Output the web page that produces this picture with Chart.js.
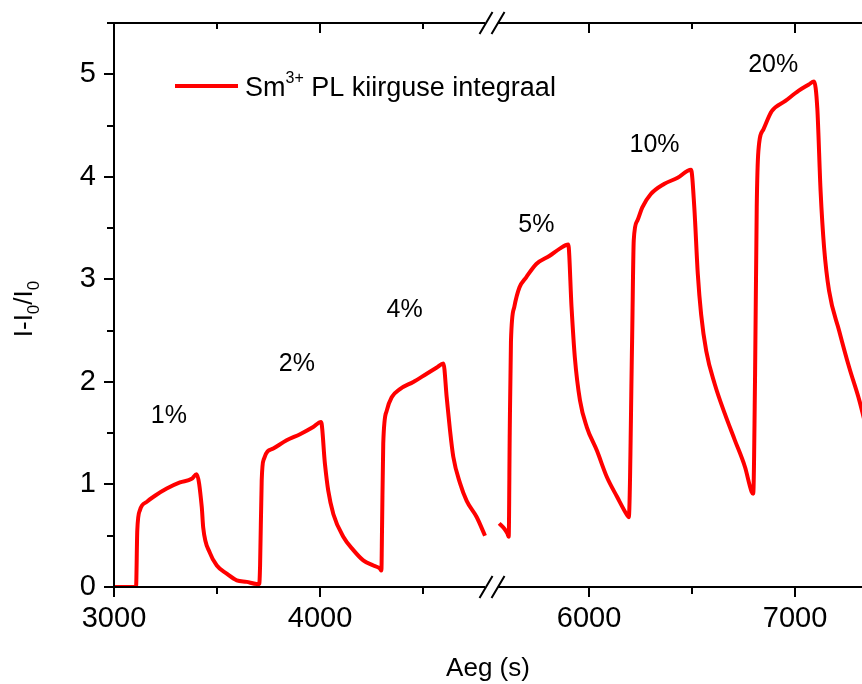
<!DOCTYPE html>
<html>
<head>
<meta charset="utf-8">
<script src="https://cdn.jsdelivr.net/npm/chart.js@4.4.1/dist/chart.umd.min.js"></script>
<style>
  html, body { margin: 0; padding: 0; background: #fff; }
</style>
</head>
<body>
<canvas id="chart" width="862" height="684"></canvas>
<script>
'use strict';

// Measured time (s) and signal before the axis break
const timeLeft = [3000, 3107, 3113, 3126, 3159, 3199, 3256, 3320, 3377, 3401,
  3426, 3433, 3466, 3499, 3547, 3596, 3644, 3693, 3705,
  3709, 3717, 3728, 3773, 3838, 3903, 3967, 4005,
  4024, 4040, 4065, 4113, 4162, 4210, 4259, 4291, 4298,
  4301, 4307, 4324, 4348, 4388, 4453, 4518, 4567, 4599,
  4615, 4631, 4647, 4680, 4712, 4761, 4801];
const signalLeft = [0, 0, 0.55, 0.75, 0.83, 0.89, 0.96, 1.02, 1.055, 1.10,
  0.78, 0.58, 0.33, 0.21, 0.13, 0.065, 0.05, 0.03, 0.03,
  0.2, 1.04, 1.25, 1.35, 1.43, 1.49, 1.56, 1.61,
  1.20, 0.94, 0.71, 0.49, 0.36, 0.26, 0.21, 0.18, 0.16,
  0.55, 1.40, 1.72, 1.85, 1.93, 2.0, 2.08, 2.14, 2.18,
  1.85, 1.53, 1.27, 1.01, 0.84, 0.68, 0.50];

// Measured time (s) and signal after the axis break
const timeRight = [5564, 5588, 5604, 5610, 5615, 5621, 5637, 5662, 5695, 5744, 5809, 5858, 5899,
  5915, 5931, 5956, 5989, 6038, 6087, 6136, 6185, 6193,
  6209, 6217, 6234, 6258, 6299, 6364, 6430, 6495,
  6511, 6528, 6544, 6569, 6610, 6659, 6708, 6757, 6789, 6797,
  6806, 6814, 6822, 6846, 6887, 6953, 7018, 7067, 7092,
  7108, 7124, 7141, 7165, 7214, 7263, 7312, 7358];
const signalRight = [0.62, 0.57, 0.52, 0.49, 1.5, 2.40, 2.73, 2.92, 3.02, 3.15, 3.23, 3.30, 3.34,
  2.73, 2.24, 1.82, 1.56, 1.33, 1.07, 0.88, 0.70, 0.68,
  2.40, 3.38, 3.57, 3.70, 3.83, 3.93, 3.99, 4.07,
  3.70, 3.05, 2.66, 2.30, 1.98, 1.69, 1.43, 1.17, 0.93, 0.91,
  2.08, 3.70, 4.25, 4.46, 4.64, 4.74, 4.84, 4.90, 4.93,
  4.67, 3.86, 3.31, 2.89, 2.50, 2.14, 1.82, 1.45];

// Concentration labels placed in data coordinates
const labelText = ['1%', '2%', '4%', '5%', '10%', '20%'];
const labelTime = [3266, 3888, 4411, 5744, 6318, 6894];
const labelValue = [1.67, 2.17, 2.70, 3.53, 4.31, 5.09];

const xTicks = [3000, 4000, 6000, 7000];
const xMinorTicks = [3500, 4500, 6500];
const yTicks = [0, 1, 2, 3, 4, 5];
const yMinorTicks = [0.5, 1.5, 2.5, 3.5, 4.5, 5.5];

const FONT = "'Liberation Sans', Arial, sans-serif";
const AXIS_GAP = 694;     // seconds cut out by the axis break
const BREAK_AT = 4835;    // axis value where the break is drawn

function toAxis(t) {
  return t < 5000 ? t : t - AXIS_GAP;
}
function toTime(v) {
  return v < BREAK_AT ? v : v + AXIS_GAP;
}

function buildPoints() {
  let pts = [];
  for (let i = 0; i < timeLeft.length; i++) {
    pts.push({ x: toAxis(timeLeft[i]), y: signalLeft[i] });
  }
  pts.push({ x: BREAK_AT, y: null });
  for (let i = 0; i < timeRight.length; i++) {
    pts.push({ x: toAxis(timeRight[i]), y: signalRight[i] });
  }
  return pts;
}

// Draw text pieces with sub/superscripts; parts = [text, size, rise]
function drawRich(ctx, parts, x, y, centered) {
  let total = 0;
  for (let p of parts) {
    ctx.font = p[1] + 'px ' + FONT;
    total += ctx.measureText(p[0]).width;
  }
  let cx = centered ? x - total / 2 : x;
  for (let p of parts) {
    ctx.font = p[1] + 'px ' + FONT;
    ctx.fillText(p[0], cx, y - p[2]);
    cx += ctx.measureText(p[0]).width;
  }
}

const decorPlugin = {
  id: 'decor',
  afterDraw(chart) {
    const ctx = chart.ctx;
    const area = chart.chartArea;
    const xs = chart.scales.x;
    const ys = chart.scales.y;
    ctx.save();
    ctx.strokeStyle = '#000';
    ctx.lineWidth = 2;

    // redraw axis lines above the data
    ctx.beginPath();
    ctx.moveTo(area.left, area.top);
    ctx.lineTo(area.left, area.bottom);
    ctx.lineTo(area.right, area.bottom);
    ctx.moveTo(area.left - 1, area.top);
    ctx.lineTo(area.right, area.top);
    ctx.stroke();

    // minor ticks + inward ticks on the top frame
    ctx.beginPath();
    for (let v of yMinorTicks) {
      let py = Math.round(ys.getPixelForValue(v));
      ctx.moveTo(area.left - 7, py);
      ctx.lineTo(area.left, py);
    }
    for (let t of xMinorTicks) {
      let px = Math.round(xs.getPixelForValue(toAxis(t)));
      ctx.moveTo(px, area.bottom);
      ctx.lineTo(px, area.bottom + 7);
      ctx.moveTo(px, area.top);
      ctx.lineTo(px, area.top + 6);
    }
    for (let t of xTicks) {
      let px = Math.round(xs.getPixelForValue(toAxis(t)));
      ctx.moveTo(px, area.top);
      ctx.lineTo(px, area.top + 10);
    }
    ctx.stroke();

    // axis break marks
    const bx = xs.getPixelForValue(BREAK_AT);
    for (let ay of [area.top, area.bottom]) {
      ctx.fillStyle = '#fff';
      ctx.fillRect(bx - 7, ay - 3, 13, 6);
      ctx.beginPath();
      ctx.moveTo(bx - 12.5, ay + 11);
      ctx.lineTo(bx + 0.5, ay - 11);
      ctx.moveTo(bx - 0.5, ay + 11);
      ctx.lineTo(bx + 12.5, ay - 11);
      ctx.stroke();
    }

    // concentration labels
    ctx.fillStyle = '#000';
    ctx.textAlign = 'center';
    ctx.textBaseline = 'middle';
    ctx.font = '25px ' + FONT;
    for (let i = 0; i < labelText.length; i++) {
      ctx.fillText(labelText[i], xs.getPixelForValue(toAxis(labelTime[i])),
        ys.getPixelForValue(labelValue[i]));
    }

    // legend
    const lx = area.left + 61;
    const ly = area.top + 63;
    ctx.strokeStyle = '#ff0000';
    ctx.lineWidth = 4;
    ctx.beginPath();
    ctx.moveTo(lx, ly);
    ctx.lineTo(lx + 63, ly);
    ctx.stroke();
    ctx.textAlign = 'left';
    ctx.textBaseline = 'alphabetic';
    drawRich(ctx, [['Sm', 27, 0], ['3+', 16, 13], [' PL kiirguse integraal', 27, 0]], lx + 70, ly + 10, false);

    // y axis title with subscripts
    ctx.translate(32, (area.top + area.bottom) / 2 + 4);
    ctx.rotate(-Math.PI / 2);
    ctx.textAlign = 'left';
    drawRich(ctx, [['I-I', 26, 0], ['0', 17, -7], ['/I', 26, 0], ['0', 17, -7]], 0, 0, true);
    ctx.restore();
  }
};

function setup() {
  let ctx = document.getElementById('chart').getContext('2d');
  new Chart(ctx, {
    type: 'line',
    data: {
      datasets: [{
        label: 'Sm3+ PL kiirguse integraal',
        data: buildPoints(),
        borderColor: '#ff0000',
        borderWidth: 4,
        pointRadius: 0,
        cubicInterpolationMode: 'monotone',
        spanGaps: false
      }]
    },
    options: {
      responsive: false,
      animation: false,
      devicePixelRatio: 1,
      layout: { padding: { top: 23, right: 0, left: 0, bottom: 0 } },
      plugins: {
        legend: { display: false },
        tooltip: { enabled: false }
      },
      scales: {
        x: {
          type: 'linear',
          min: 3000,
          max: 6631,
          afterBuildTicks: scale => {
            scale.ticks = xTicks.map(t => ({ value: toAxis(t) }));
          },
          afterFit: scale => {
            scale.height = 97;
            scale.paddingLeft = 0;
            scale.paddingRight = 0;
          },
          ticks: {
            color: '#000',
            font: { family: FONT, size: 29 },
            padding: 5,
            maxRotation: 0,
            autoSkip: false,
            callback: v => String(Math.round(toTime(v)))
          },
          grid: { drawOnChartArea: false, tickLength: 10, color: '#000', lineWidth: 2 },
          border: { color: '#000', width: 2 },
          title: {
            display: true,
            text: 'Aeg (s)',
            color: '#000',
            font: { family: FONT, size: 26 },
            padding: { top: 0, bottom: 0 }
          }
        },
        y: {
          min: 0,
          max: 5.5,
          afterBuildTicks: scale => {
            scale.ticks = yTicks.map(v => ({ value: v }));
          },
          afterFit: scale => {
            scale.width = 114;
            scale.paddingTop = 0;
            scale.paddingBottom = 0;
          },
          ticks: {
            color: '#000',
            font: { family: FONT, size: 29 },
            padding: 8
          },
          grid: { drawOnChartArea: false, tickLength: 10, color: '#000', lineWidth: 2 },
          border: { color: '#000', width: 2 }
        }
      }
    },
    plugins: [decorPlugin]
  });
}

window.addEventListener('load', setup);
</script>
</body>
</html>
